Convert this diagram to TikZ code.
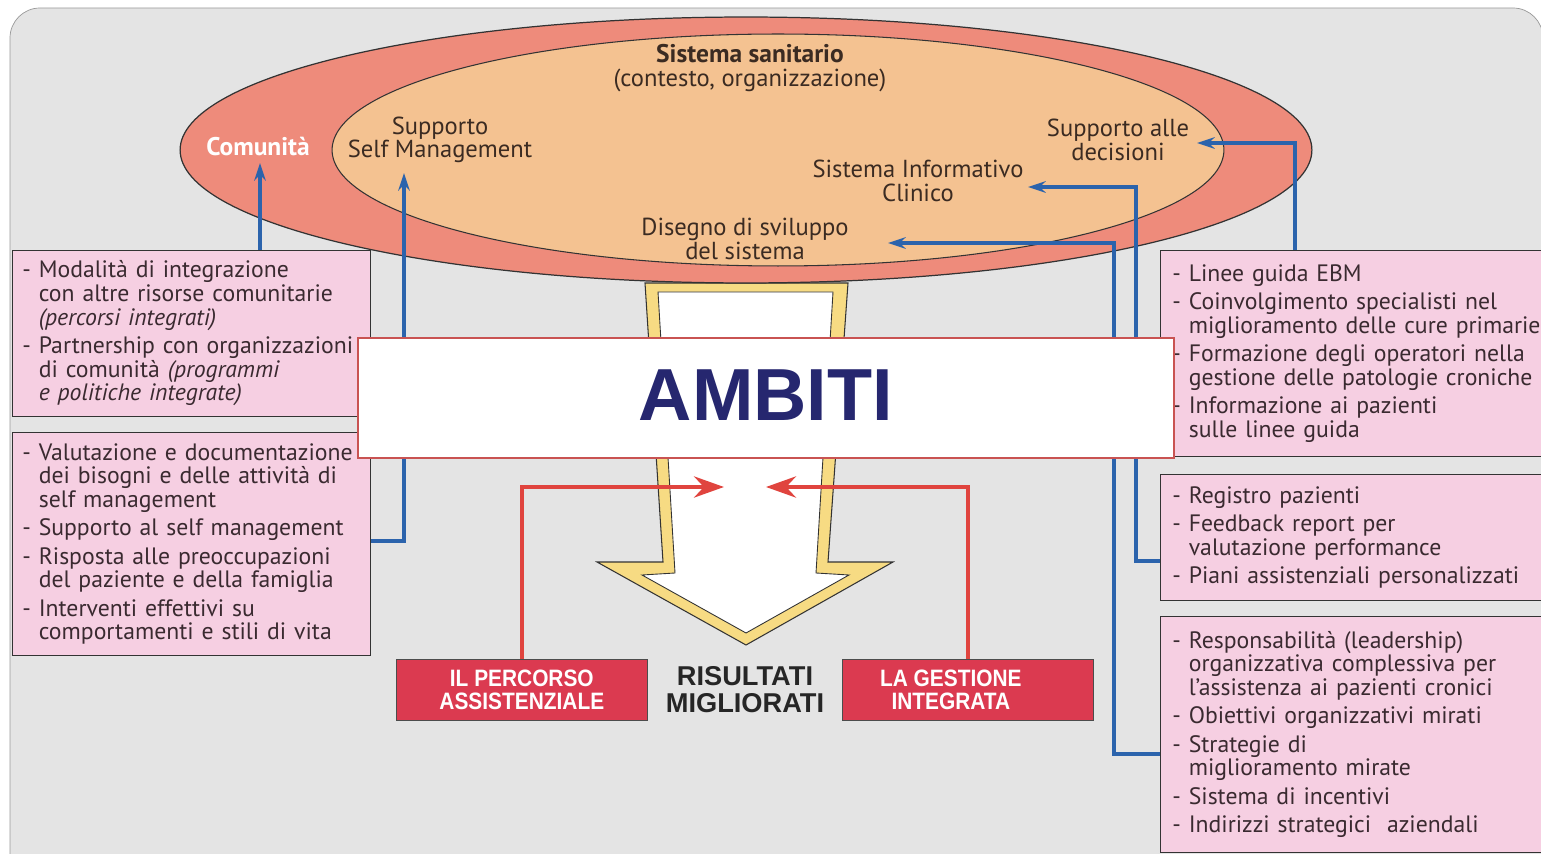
\documentclass[tikz,border=0pt]{standalone}
\usepackage{fontspec}
\setmainfont{PT Sans}
\newfontfamily\titfont{Liberation Sans}
\newfontfamily\strettofont[FakeStretch=0.88]{Liberation Sans}
\usetikzlibrary{arrows.meta,calc,positioning}
\definecolor{fondo}{HTML}{E4E4E4}
\definecolor{salmone}{HTML}{EE8B7B}
\definecolor{pesca}{HTML}{F4C291}
\definecolor{rosa}{HTML}{F6CFE2}
\definecolor{bluc}{HTML}{2B63AC}
\definecolor{rossol}{HTML}{E0443E}
\definecolor{rossob}{HTML}{DB3A50}
\definecolor{giallo}{HTML}{F7DB83}
\definecolor{navy}{HTML}{26276F}
\definecolor{bordoamb}{HTML}{C95352}
\definecolor{testo}{HTML}{3A2A30}
\definecolor{marrone}{HTML}{3B2B22}
\newcommand{\rientro}{\hphantom{- }}

\begin{document}
\begin{tikzpicture}[x=0.02cm,y=-0.02cm,
	box/.style={draw=black!80,fill=rosa,anchor=north west,align=left,text=testo,font=\fontsize{13.5}{13.4}\selectfont},
	etxt/.style={align=center,text=marrone,inner sep=1pt,font=\fontsize{14}{13.4}\selectfont},
	blu/.style={draw=bluc,line width=2pt,-{Stealth[length=10pt,width=6.5pt]}},
	rarr/.style={draw=rossol,line width=2.4pt,-{Stealth[length=17pt,width=12pt]}},
	rbox/.style={draw=black!70,fill=rossob,text=white,align=center,minimum width=5.02cm,minimum height=1.22cm,anchor=north west,font=\strettofont\bfseries\fontsize{13.5}{13}\selectfont}]
	\useasboundingbox (0,0) rectangle (1541,854);
	\clip (0,0) rectangle (1541,854);
	\filldraw[fill=fondo,draw=gray!80,rounded corners=0.6cm] (10,900) -- (10,8) -- (1543,8) -- (1543,900);
	\filldraw[fill=giallo,draw=black!80,line width=0.6pt] (645,283) -- (848,283) -- (828,562) -- (893,562) -- (746,645) -- (597,562) -- (663,562) -- cycle;
	\filldraw[fill=white,draw=black!80,line width=0.5pt] (658,292) -- (833,292) -- (816,573) -- (849,575) -- (746,633) -- (642,575) -- (675,573) -- cycle;
	\filldraw[fill=salmone,draw=black!80,line width=0.7pt] (746,150) ellipse [x radius=11.32cm,y radius=2.66cm];
	\filldraw[fill=pesca,draw=black!80,line width=0.6pt] (778,150) ellipse [x radius=8.92cm,y radius=2.32cm];
	\node[etxt] (sist) at (750,68) {\textbf{\fontsize{14.5}{13.4}\selectfont Sistema sanitario}\\(contesto, organizzazione)};
	\node[etxt,text=white,font=\bfseries\fontsize{14.5}{13.4}\selectfont] (com) at (258,147) {Comunità};
	\node[etxt] (smg) at (440,140) {Supporto\\Self Management};
	\node[etxt] (dec) at (1118,140) {Supporto alle\\decisioni};
	\node[etxt] (sic) at (918,181) {Sistema Informativo\\Clinico};
	\node[etxt] (dis) at (745,239) {Disegno di sviluppo\\del sistema};
	\coordinate (pcom) at (260,163);
	\coordinate (psmg) at (404,173);
	\coordinate (pdec) at (1197,143);
	\coordinate (psic) at (1028,187);
	\coordinate (pdis) at (888,243);
	\node[box,inner xsep=0.2cm,text width=6.76cm,minimum height=3.32cm] (mod) at (12,250) {- Modalità di integrazione\\
		\rientro con altre risorse comunitarie\\
		\rientro\textit{(percorsi integrati)}\\[2.8pt]
		- Partnership con organizzazioni\\
		\rientro di comunità \textit{(programmi}\\
		\rientro\textit{e politiche integrate)}};
	\node[box,inner xsep=0.2cm,text width=6.76cm,minimum height=4.46cm] (val) at (12,432) {- Valutazione e documentazione\\
		\rientro dei bisogni e delle attività di\\
		\rientro self management\\[2.8pt]
		- Supporto al self management\\[2.8pt]
		- Risposta alle preoccupazioni\\
		\rientro del paziente e della famiglia\\[2.8pt]
		- Interventi effettivi su\\
		\rientro comportamenti e stili di vita};
	\node[box,inner xsep=0.24cm,text width=8.2cm,minimum height=4.12cm] (ebm) at (1160,250) {- Linee guida EBM\\[2.8pt]
		- Coinvolgimento specialisti nel\\
		\rientro miglioramento delle cure primarie\\[2.8pt]
		- Formazione degli operatori nella\\
		\rientro gestione delle patologie croniche\\[2.8pt]
		- Informazione ai pazienti\\
		\rientro sulle linee guida};
	\node[box,inner xsep=0.24cm,text width=8.2cm,minimum height=2.52cm] (reg) at (1160,474) {- Registro pazienti\\[2.8pt]
		- Feedback report per\\
		\rientro valutazione performance\\[2.8pt]
		- Piani assistenziali personalizzati};
	\node[box,inner xsep=0.24cm,text width=8.2cm,minimum height=4.72cm] (res) at (1160,616) {- Responsabilità (leadership)\\
		\rientro organizzativa complessiva per\\
		\rientro l’assistenza ai pazienti cronici\\[2.8pt]
		- Obiettivi organizzativi mirati\\[2.8pt]
		- Strategie di\\
		\rientro miglioramento mirate\\[2.8pt]
		- Sistema di incentivi\\[2.8pt]
		- Indirizzi strategici\ \ aziendali};
	\draw[blu] (mod.north -| pcom) -- (pcom);
	\draw[blu] (val.east |- 0,541) -| (psmg);
	\draw[blu] (ebm.north -| 1295,0) |- (pdec);
	\draw[blu] (reg.west |- 0,561) -| ($(psic)+(108,0)$) -- (psic);
	\draw[blu] (res.west |- 0,754) -| ($(pdis)+(226,0)$) -- (pdis);
	\node[draw=bordoamb,line width=1.2pt,fill=white,minimum width=16.32cm,minimum height=2.4cm,anchor=north west,text=navy,font=\titfont\bfseries\fontsize{42}{42}\selectfont] (amb) at (357,337) {\raisebox{3pt}{AMBITI}};
	\node[rbox] (perc) at (396,659) {IL PERCORSO\\ASSISTENZIALE};
	\node[rbox] (gest) at (842,659) {LA GESTIONE\hspace*{0.68cm}\\INTEGRATA\hspace*{0.68cm}};
	\node[align=center,text=black!85,font=\titfont\bfseries\fontsize{15.5}{15.4}\selectfont] (ris) at (745,690) {RISULTATI\\MIGLIORATI};
	\coordinate (pl) at (724,487);
	\coordinate (pr) at (766,487);
	\draw[rarr] (perc.north) |- (pl);
	\draw[rarr] (gest.north) |- (pr);
\end{tikzpicture}
\end{document}
